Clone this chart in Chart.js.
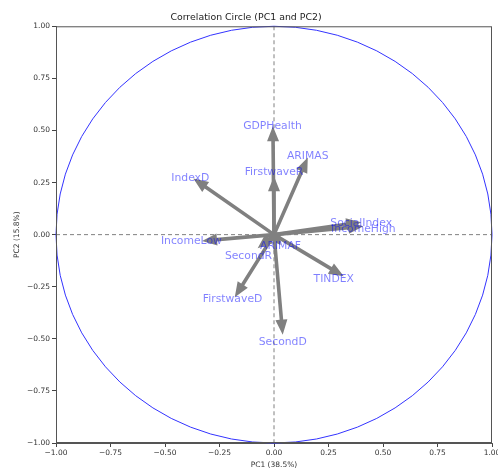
<!DOCTYPE html>
<html>
<head>
<meta charset="utf-8">
<script src="https://cdn.jsdelivr.net/npm/chart.js@4/dist/chart.umd.min.js"></script>
<style>
  html, body { margin: 0; padding: 0; background: #fff; }
  #wrap { width: 498px; height: 470px; }
</style>
</head>
<body>
<div id="wrap"><canvas id="circleChart" width="498" height="470"></canvas></div>
<script>
// variable loadings on PC1 / PC2 (arrow tips)
const variables = ['GDPHealth', 'ARIMAS', 'FirstwaveR', 'IndexD', 'SocialIndex', 'IncomeHigh',
                   'IncomeLow', 'ARIMAF', 'SecondR', 'TINDEX', 'FirstwaveD', 'SecondD'];
const pc1 = [-0.005, 0.155, 0.0, -0.37, 0.40, 0.41, -0.33, 0.03, -0.075, 0.32, -0.18, 0.04];
const pc2 = [0.52, 0.37, 0.28, 0.27, 0.06, 0.04, -0.03, -0.05, -0.065, -0.2, -0.3, -0.48];
// where the names sit
const labelX = [-0.007, 0.155, 0.0, -0.384, 0.40, 0.41, -0.379, 0.03, -0.117, 0.274, -0.19, 0.04];
const labelY = [0.52, 0.376, 0.30, 0.27, 0.055, 0.026, -0.03, -0.055, -0.103, -0.213, -0.31, -0.516];
const ticks = [-1, -0.75, -0.5, -0.25, 0, 0.25, 0.5, 0.75, 1];

const fontFamily = "'DejaVu Sans', sans-serif";

function fmt(v) {
    const s = Math.abs(v).toFixed(2);
    return v < 0 ? '\u2212' + s : s;
}

const circlePlugin = {
    id: 'circlePlugin',
    beforeDatasetsDraw(chart) {
        const { ctx, scales: { x, y } } = chart;
        const cx = x.getPixelForValue(0), cy = y.getPixelForValue(0);
        ctx.save();
        // dashed zero lines
        ctx.strokeStyle = '#808080';
        ctx.lineWidth = 1;
        ctx.setLineDash([4, 3]);
        ctx.beginPath();
        ctx.moveTo(x.getPixelForValue(-1), cy);
        ctx.lineTo(x.getPixelForValue(1), cy);
        ctx.moveTo(cx, y.getPixelForValue(1));
        ctx.lineTo(cx, y.getPixelForValue(-1));
        ctx.stroke();
        ctx.setLineDash([]);
        // unit circle
        ctx.strokeStyle = '#3333ff';
        ctx.lineWidth = 1;
        ctx.beginPath();
        ctx.ellipse(cx, cy, x.getPixelForValue(1) - cx, cy - y.getPixelForValue(1), 0, 0, Math.PI * 2);
        ctx.stroke();
        ctx.restore();
    },
    afterDatasetsDraw(chart) {
        const { ctx, chartArea, scales: { x, y } } = chart;
        const x0 = x.getPixelForValue(0), y0 = y.getPixelForValue(0);
        ctx.save();
        // arrows
        ctx.fillStyle = '#808080';
        for (let i = 0; i < variables.length; i++) {
            const tx = x.getPixelForValue(pc1[i]), ty = y.getPixelForValue(pc2[i]);
            const dx = tx - x0, dy = ty - y0;
            const len = Math.hypot(dx, dy);
            const ux = dx / len, uy = dy / len;
            const nx = -uy, ny = ux;
            const headLen = Math.min(15, len * 0.8), headW = 6, w = 1.8;
            const bx = tx - ux * headLen, by = ty - uy * headLen;
            ctx.beginPath();
            ctx.moveTo(x0 + nx * w, y0 + ny * w);
            ctx.lineTo(bx + nx * w, by + ny * w);
            ctx.lineTo(bx + nx * headW, by + ny * headW);
            ctx.lineTo(tx, ty);
            ctx.lineTo(bx - nx * headW, by - ny * headW);
            ctx.lineTo(bx - nx * w, by - ny * w);
            ctx.lineTo(x0 - nx * w, y0 - ny * w);
            ctx.closePath();
            ctx.fill();
        }
        // names
        ctx.fillStyle = 'rgba(0, 0, 255, 0.5)';
        ctx.font = '10.8px ' + fontFamily;
        ctx.textAlign = 'center';
        ctx.textBaseline = 'middle';
        for (let i = 0; i < variables.length; i++) {
            ctx.fillText(variables[i], x.getPixelForValue(labelX[i]), y.getPixelForValue(labelY[i]));
        }
        // frame
        ctx.strokeStyle = '#555';
        ctx.lineWidth = 1;
        ctx.strokeRect(chartArea.left + 0.5, chartArea.top + 0.5,
                       chartArea.right - chartArea.left - 1, chartArea.bottom - chartArea.top - 1);
        ctx.restore();
    }
};

const axisCommon = {
    type: 'linear',
    min: -1,
    max: 1,
    afterBuildTicks(scale) { scale.ticks = ticks.map(v => ({ value: v })); },
    grid: { drawOnChartArea: false, drawTicks: true, tickLength: 4, color: '#444' },
    border: { display: true, color: '#555' },
    ticks: {
        autoSkip: false,
        maxRotation: 0,
        color: '#333',
        padding: 2,
        font: { family: fontFamily, size: 7.5 },
        callback: v => fmt(v)
    }
};

new Chart(document.getElementById('circleChart'), {
    type: 'scatter',
    data: {
        datasets: [{
            label: 'loadings',
            data: pc1.map((v, i) => ({ x: v, y: pc2[i] })),
            pointRadius: 0,
            showLine: false
        }]
    },
    options: {
        responsive: false,
        animation: false,
        layout: { padding: { left: 0, right: 6, top: 0, bottom: 0 } },
        plugins: {
            legend: { display: false },
            tooltip: { enabled: false },
            title: {
                display: true,
                text: 'Correlation Circle (PC1 and PC2)',
                color: '#222',
                font: { family: fontFamily, size: 9.4, weight: 'normal' },
                padding: { top: 12, bottom: 3 }
            }
        },
        scales: {
            x: Object.assign({}, axisCommon, {
                position: 'bottom',
                title: { display: true, text: 'PC1 (38.5%)', color: '#333',
                         font: { family: fontFamily, size: 7.5 }, padding: { top: 1, bottom: 0 } },
                afterFit(scale) {
                    scale.height = 27;
                    scale.paddingLeft = 0;
                    scale.paddingRight = 0;
                }
            }),
            y: Object.assign({}, axisCommon, {
                position: 'left',
                title: { display: true, text: 'PC2 (15.8%)', color: '#333',
                         font: { family: fontFamily, size: 7.5 }, padding: { top: 13, bottom: 0 } },
                afterFit(scale) {
                    scale.width = 56;
                    scale.paddingTop = 0;
                    scale.paddingBottom = 0;
                }
            })
        }
    },
    plugins: [circlePlugin]
});
</script>
</body>
</html>
